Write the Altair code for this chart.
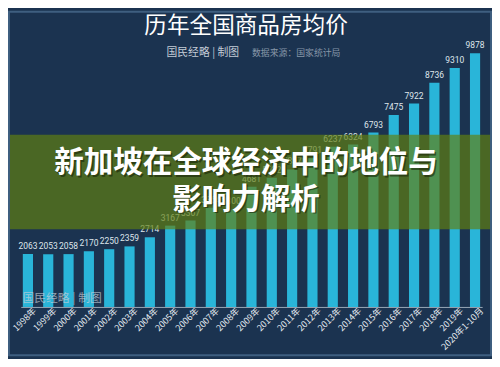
import altair as alt
import pandas as pd

years = ["1998年", "1999年", "2000年", "2001年", "2002年", "2003年", "2004年", "2005年",
         "2006年", "2007年", "2008年", "2009年", "2010年", "2011年", "2012年", "2013年",
         "2014年", "2015年", "2016年", "2017年", "2018年", "2019年", "2020年1-10月"]
prices = [2063, 2053, 2058, 2170, 2250, 2359, 2714, 3167, 3367, 3864, 3800, 4681,
          5032, 5357, 5791, 6237, 6324, 6793, 7475, 7922, 8736, 9310, 9878]

title_text = "历年全国商品房均价"
credit_text = "国民经略 | 制图"
source_text = "数据来源：国家统计局"
banner_line1 = "新加坡在全球经济中的地位与"
banner_line2 = "影响力解析"

FONT = "Noto Sans CJK SC"
NUMFONT = "Roboto"
BG = "#1b3350"
W, H = 469, 261

df = pd.DataFrame({"year": years, "price": prices})

xenc = alt.X("year:N", sort=years, title=None,
             scale=alt.Scale(paddingInner=0.5, paddingOuter=0.1),
             axis=alt.Axis(labelAngle=315, labelAlign="right", labelBaseline="middle",
                           labelColor="#e6ecf2", labelFontSize=9, labelFont=FONT,
                           labelPadding=2, labelOffset=7, ticks=False,
                           domainColor="#9aa8b8", domainWidth=1, labelOverlap=False))
yenc = alt.Y("price:Q", scale=alt.Scale(domain=[0, 10000], nice=False), axis=None)

base = alt.Chart(df)
bars = base.mark_bar(color="#29b5d9").encode(x=xenc, y=yenc)
vals = base.mark_text(baseline="bottom", dy=-3, fontSize=8.6, font=NUMFONT,
                      color="#dfe6ec").encode(x=xenc, y=yenc, text="price:Q")


def label(text, x, y, **kw):
    return alt.Chart(pd.DataFrame({"t": [text]})).mark_text(**kw).encode(
        text="t:N", x=alt.value(x), y=alt.value(y))


title = label(title_text, 229, -24, font=FONT, fontSize=23, color="#ffffff",
              baseline="middle")
credit = label(credit_text, 185, 3, font=FONT, fontSize=11, color="#c3ccd6",
               baseline="middle")
source = label(source_text, 280, 3, font=FONT, fontSize=9, color="#8797a8",
               baseline="middle")
water = label(credit_text, 42, 252, font=FONT, fontSize=12, color="#c8d0d8", opacity=0.7,
              baseline="middle")

one = pd.DataFrame({"k": [0]})
banner = alt.Chart(one).mark_rect(color="#628010", opacity=0.68).encode(
    x=alt.value(-13), x2=alt.value(479), y=alt.value(86), y2=alt.value(182))
frame = alt.Chart(one).mark_rect(fillOpacity=0, stroke="#3f5f80", strokeWidth=2).encode(
    x=alt.value(-12), x2=alt.value(478), y=alt.value(-39), y2=alt.value(310))

sh1 = label(banner_line1, 230.5, 116.5, font=FONT, fontSize=30, fontWeight="bold",
            color="#1a2608", opacity=0.6, baseline="middle")
sh2 = label(banner_line2, 230.5, 153.5, font=FONT, fontSize=30, fontWeight="bold",
            color="#1a2608", opacity=0.6, baseline="middle")
b1 = label(banner_line1, 229, 115, font=FONT, fontSize=30, fontWeight="bold",
           color="#ffffff", baseline="middle")
b2 = label(banner_line2, 229, 152, font=FONT, fontSize=30, fontWeight="bold",
           color="#ffffff", baseline="middle")

chart = alt.layer(bars, vals, title, credit, source, water, banner, sh1, sh2, b1, b2,
                  frame).properties(
    width=W, height=H,
    autosize=alt.AutoSizeParams(type="none"),
    padding={"left": 13, "top": 40, "right": 10, "bottom": 50},
    background=BG,
).configure_view(stroke=None)

chart.save("out.html", embed_options={"renderer": "svg", "actions": False})
